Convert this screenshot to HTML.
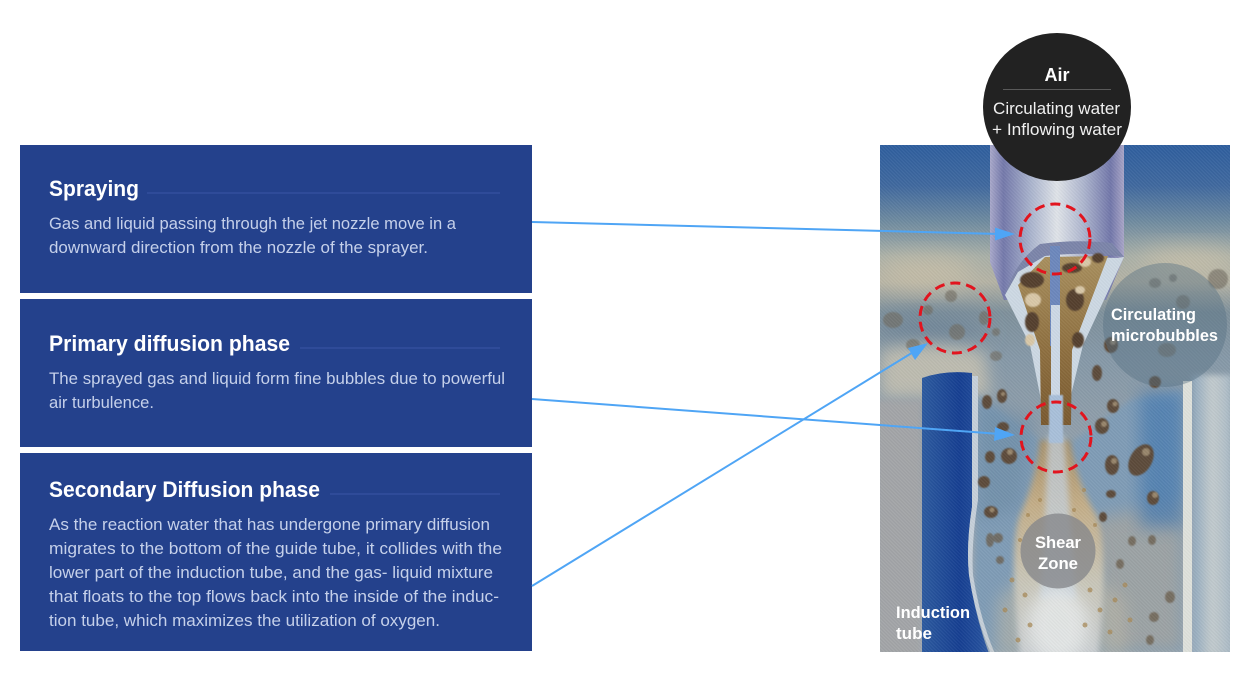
<!DOCTYPE html>
<html lang="en"><head><meta charset="utf-8"><title>Jet nozzle diffusion phases</title>
<style>html,body{margin:0;padding:0;background:#fff;width:1250px;height:700px;overflow:hidden}svg{display:block}text{font-family:"Liberation Sans",sans-serif}</style></head>
<body>
<svg width="1250" height="700" viewBox="0 0 1250 700" xmlns="http://www.w3.org/2000/svg">
<defs>
<clipPath id="ic"><rect x="880" y="145" width="350" height="507"/></clipPath>
<linearGradient id="bg" x1="0" y1="0" x2="0" y2="1">
<stop offset="0" stop-color="#2f5f9f"/><stop offset=".08" stop-color="#40699f"/><stop offset=".15" stop-color="#6f8ba0"/><stop offset=".22" stop-color="#a9b0a8"/><stop offset=".27" stop-color="#b5b3a5"/><stop offset=".33" stop-color="#7f919c"/><stop offset=".42" stop-color="#8699a8"/><stop offset=".7" stop-color="#9aa4ad"/><stop offset="1" stop-color="#a3afba"/></linearGradient>
<linearGradient id="pipe" x1="0" y1="0" x2="1" y2="0">
<stop offset="0" stop-color="#a9a9cb"/><stop offset=".1" stop-color="#7479ab"/><stop offset=".3" stop-color="#a9b3cd"/><stop offset=".5" stop-color="#e0e4e9"/><stop offset=".7" stop-color="#adb5ce"/><stop offset=".9" stop-color="#7277aa"/><stop offset="1" stop-color="#a9a6c8"/></linearGradient>
<linearGradient id="tube" x1="0" y1="0" x2="1" y2="0"><stop offset="0" stop-color="#2d5ba0"/><stop offset=".55" stop-color="#163f92"/><stop offset="1" stop-color="#2a57a3"/></linearGradient>
<linearGradient id="brown" x1="0" y1="0" x2="0" y2="1"><stop offset="0" stop-color="#a9905f"/><stop offset=".55" stop-color="#8f7040"/><stop offset="1" stop-color="#7a5a30"/></linearGradient>
<linearGradient id="jet" x1="0" y1="0" x2="0" y2="1"><stop offset="0" stop-color="#a89068"/><stop offset=".3" stop-color="#c4ae88"/><stop offset=".65" stop-color="#c9c6b8"/><stop offset="1" stop-color="#c9ced2"/></linearGradient>
<linearGradient id="rside" x1="0" y1="0" x2="1" y2="0"><stop offset="0" stop-color="#8fa8be"/><stop offset=".5" stop-color="#c4ccce"/><stop offset="1" stop-color="#a9bac6"/></linearGradient>
<pattern id="hatch" width="2.500" height="2.500" patternUnits="userSpaceOnUse" patternTransform="rotate(45)"><rect width="2.500" height="1" fill="#fff" fill-opacity=".05"/><rect y="1.300" width="2.500" height="1" fill="#000" fill-opacity=".035"/></pattern>
<filter id="b12" x="-40%" y="-60%" width="180%" height="220%"><feGaussianBlur stdDeviation="12"/></filter>
<filter id="b8" x="-30%" y="-30%" width="160%" height="160%"><feGaussianBlur stdDeviation="8"/></filter>
<filter id="b3" x="-30%" y="-30%" width="160%" height="160%"><feGaussianBlur stdDeviation="3"/></filter>
<filter id="b1" x="-30%" y="-30%" width="160%" height="160%"><feGaussianBlur stdDeviation=".9"/></filter>
</defs>
<rect width="1250" height="700" fill="#fff"/>

<rect x="20" y="145" width="512" height="148" fill="#24418c"/>
<rect x="20" y="299" width="512" height="148" fill="#24418c"/>
<rect x="20" y="453" width="512" height="198" fill="#24418c"/>
<g fill="#2f4b99"><rect x="147" y="192" width="353" height="2"/><rect x="300" y="347" width="200" height="2"/><rect x="330" y="493" width="170" height="2"/></g>
<g fill="#fff" font-weight="700" font-size="22">
<text x="49" y="196" textLength="90" lengthAdjust="spacingAndGlyphs">Spraying</text>
<text x="49" y="351" textLength="241" lengthAdjust="spacingAndGlyphs">Primary diffusion phase</text>
<text x="49" y="497" textLength="271" lengthAdjust="spacingAndGlyphs">Secondary Diffusion phase</text>
</g>
<g fill="#c5d0ea" font-size="17">
<text x="49" y="229" textLength="407" lengthAdjust="spacingAndGlyphs">Gas and liquid passing through the jet nozzle move in a</text>
<text x="49" y="253" textLength="379" lengthAdjust="spacingAndGlyphs">downward direction from the nozzle of the sprayer.</text>
<text x="49" y="384" textLength="456" lengthAdjust="spacingAndGlyphs">The sprayed gas and liquid form fine bubbles due to powerful</text>
<text x="49" y="408" textLength="105" lengthAdjust="spacingAndGlyphs">air turbulence.</text>
<text x="49" y="530" textLength="441" lengthAdjust="spacingAndGlyphs">As the reaction water that has undergone primary diffusion</text>
<text x="49" y="554" textLength="453" lengthAdjust="spacingAndGlyphs">migrates to the bottom of the guide tube, it collides with the</text>
<text x="49" y="578" textLength="444" lengthAdjust="spacingAndGlyphs">lower part of the induction tube, and the gas- liquid mixture</text>
<text x="49" y="602" textLength="450" lengthAdjust="spacingAndGlyphs">that floats to the top flows back into the inside of the induc-</text>
<text x="49" y="626" textLength="391" lengthAdjust="spacingAndGlyphs">tion tube, which maximizes the utilization of oxygen.</text>
</g>

<g clip-path="url(#ic)">
<rect x="880" y="145" width="350" height="507" fill="url(#bg)"/>
<ellipse cx="925" cy="272" rx="50" ry="14" fill="#c6bea8" filter="url(#b12)"/>
<ellipse cx="1190" cy="262" rx="50" ry="13" fill="#c6bfaa" filter="url(#b12)"/>
<ellipse cx="930" cy="330" rx="55" ry="14" fill="#6f8598" filter="url(#b12)"/>
<path d="M880 350 Q930 338 985 352 L990 398 L880 398Z" fill="#bdbcb0" filter="url(#b8)"/>
<rect x="876" y="400" width="46" height="256" fill="#a3a5a8" filter="url(#b3)"/>
<path d="M978 395 L1040 440 L1075 440 L1130 400 L1183 390 L1183 652 L990 652 Q972 610 974 570Z" fill="#7f9cb6" filter="url(#b3)"/>
<path d="M978 400 L1035 420 L1020 510 L978 520Z" fill="#6f8ea8" opacity=".7" filter="url(#b8)"/>
<path d="M1090 520 L1183 500 L1183 652 L1110 652Z" fill="#a9a69e" opacity=".7" filter="url(#b8)"/>
<rect x="1140" y="392" width="43" height="135" fill="#4a7bb0" opacity=".75" filter="url(#b8)"/>
<rect x="1192" y="375" width="40" height="280" fill="url(#rside)" filter="url(#b3)"/>
<rect x="1183" y="381" width="9" height="271" fill="#dfe2dc"/>

<path d="M922 378 Q945 370 972 373 L972 507 Q966 545 969 575 Q976 620 990 656 L922 656Z" fill="url(#tube)"/>
<path d="M972 376 L978 376 L978 500 Q971 545 973 575 Q980 620 996 656 L992 656 Q976 620 969 575 Q966 545 972 507 Z" fill="#c6d0da"/>

<path d="M1040 560 L1070 560 L1125 600 L1125 656 L995 656 L998 600Z" fill="#c0b9a6" opacity=".55" filter="url(#b8)"/>
<path d="M1040 440 L1070 440 Q1076 480 1096 515 Q1110 545 1098 656 L1020 656 Q1008 545 1020 515 Q1036 480 1040 440Z" fill="url(#jet)" filter="url(#b3)"/>
<path d="M1048 435 L1064 435 L1072 540 L1076 600 L1040 600 L1044 540Z" fill="#c5d3e2" opacity=".7" filter="url(#b3)"/>
<ellipse cx="1058" cy="625" rx="30" ry="38" fill="#e7eaea" opacity=".85" filter="url(#b8)"/>

<path d="M990 145 L1124 145 L1124 257 L1106 300 L1004 300 L990 262Z" fill="url(#pipe)"/>
<path d="M1005 295 Q1015 262 1040 244 Q1075 239 1112 243 L1124 257 Q1085 251 1045 256 Q1020 270 1005 295Z" fill="#7c85aa"/>
<path d="M1005 295 L1018 272 L1045 256 L1118 258 L1124 257 L1083 345 L1071 395 L1068 425 L1044 425 L1040 395 L1030 345Z" fill="#cdd9e4"/>
<path d="M1018 285 L1045 257 L1108 256 L1072 350 L1071 425 L1041 425 L1040 350Z" fill="url(#brown)"/>
<rect x="1050" y="246" width="10" height="100" fill="#6d88bd"/>
<rect x="1051" y="305" width="9" height="100" fill="#cdd9e6"/>
<rect x="1049" y="395" width="14" height="48" fill="#a9c0da" filter="url(#b1)"/>

<g fill="#54402e" filter="url(#b1)">
<ellipse cx="1032" cy="280" rx="12" ry="8"/><ellipse cx="1075" cy="300" rx="9" ry="11"/><ellipse cx="1072" cy="268" rx="10" ry="5"/><ellipse cx="1032" cy="322" rx="7" ry="10"/><ellipse cx="1078" cy="340" rx="6" ry="8"/><ellipse cx="1098" cy="258" rx="6" ry="5"/>
</g>
<g fill="#d9c8a8" filter="url(#b1)">
<ellipse cx="1033" cy="300" rx="8" ry="7"/><ellipse cx="1080" cy="290" rx="5" ry="4"/><ellipse cx="1085" cy="262" rx="6" ry="5"/><ellipse cx="1030" cy="340" rx="5" ry="6"/>
</g>

<g fill="#5d4b3a" filter="url(#b1)">
<ellipse cx="1002" cy="396" rx="5" ry="7"/><ellipse cx="987" cy="402" rx="5" ry="7"/><ellipse cx="1003" cy="427" rx="6" ry="5"/>
<ellipse cx="990" cy="457" rx="5" ry="6"/><ellipse cx="1009" cy="456" rx="8" ry="8"/><ellipse cx="984" cy="482" rx="6" ry="6"/><ellipse cx="991" cy="512" rx="7" ry="6"/>
<ellipse cx="1102" cy="426" rx="7" ry="8"/><ellipse cx="1113" cy="406" rx="6" ry="7"/><ellipse cx="1112" cy="465" rx="7" ry="10"/><ellipse cx="1141" cy="460" rx="11" ry="17" transform="rotate(30 1141 460)"/>
<ellipse cx="1153" cy="498" rx="6" ry="7"/><ellipse cx="1111" cy="494" rx="5" ry="4"/><ellipse cx="1103" cy="517" rx="4" ry="5"/><ellipse cx="1111" cy="345" rx="7" ry="8"/><ellipse cx="1097" cy="373" rx="5" ry="8"/><ellipse cx="1155" cy="382" rx="6" ry="6"/>
</g>
<g fill="#c9b795" opacity=".55" filter="url(#b1)">
<circle cx="1104" cy="424" r="3"/><circle cx="1115" cy="404" r="2.500"/><circle cx="1114" cy="461" r="3"/><circle cx="1146" cy="452" r="4"/><circle cx="1155" cy="495" r="3"/><circle cx="1010" cy="452" r="3"/><circle cx="992" cy="510" r="2.500"/><circle cx="1003" cy="394" r="2"/><circle cx="1113" cy="342" r="3"/>
</g>
<g fill="#6b5d4c" opacity=".75" filter="url(#b1)">
<ellipse cx="998" cy="538" rx="5" ry="5"/><ellipse cx="990" cy="540" rx="4" ry="7"/><ellipse cx="1000" cy="560" rx="4" ry="4"/><ellipse cx="1132" cy="541" rx="4" ry="5"/><ellipse cx="1152" cy="540" rx="4" ry="5"/><ellipse cx="1120" cy="564" rx="4" ry="5"/><ellipse cx="1170" cy="597" rx="5" ry="6"/><ellipse cx="1154" cy="617" rx="5" ry="5"/><ellipse cx="1150" cy="640" rx="4" ry="5"/>
</g>
<g fill="#6f6a5e" opacity=".6" filter="url(#b1)">
<ellipse cx="893" cy="320" rx="10" ry="8"/><ellipse cx="913" cy="345" rx="7" ry="6"/><ellipse cx="951" cy="296" rx="6" ry="6"/><ellipse cx="957" cy="332" rx="8" ry="8"/><ellipse cx="928" cy="310" rx="5" ry="5"/><ellipse cx="984" cy="318" rx="5" ry="7"/><ellipse cx="996" cy="332" rx="4" ry="4"/><ellipse cx="996" cy="356" rx="6" ry="5"/><ellipse cx="1218" cy="279" rx="10" ry="10"/><ellipse cx="1155" cy="283" rx="6" ry="5"/><ellipse cx="1183" cy="302" rx="7" ry="7"/><ellipse cx="1173" cy="278" rx="4" ry="4"/><ellipse cx="1167" cy="350" rx="9" ry="7"/>
</g>
<g fill="#a88a58" opacity=".75">
<circle cx="1012" cy="580" r="2.500"/><circle cx="1025" cy="595" r="2.500"/><circle cx="1005" cy="610" r="2.500"/><circle cx="1030" cy="625" r="2.500"/><circle cx="1018" cy="640" r="2.500"/><circle cx="1090" cy="590" r="2.500"/><circle cx="1100" cy="610" r="2.500"/><circle cx="1085" cy="625" r="2.500"/><circle cx="1115" cy="600" r="2.500"/><circle cx="1125" cy="585" r="2.500"/><circle cx="1110" cy="632" r="2.500"/><circle cx="1130" cy="620" r="2.500"/><circle cx="1040" cy="500" r="2"/><circle cx="1028" cy="515" r="2"/><circle cx="1084" cy="490" r="2"/><circle cx="1074" cy="510" r="2"/><circle cx="1095" cy="525" r="2"/><circle cx="1020" cy="540" r="2"/>
</g>
<rect x="880" y="145" width="350" height="507" fill="url(#hatch)"/>

<circle cx="1165" cy="325" r="62" fill="#566f84" fill-opacity=".42"/>
<circle cx="1058" cy="551" r="37.500" fill="#85878a" fill-opacity=".78"/>
</g>

<g fill="none" stroke="#e2141e" stroke-width="3" stroke-dasharray="10 6">
<circle cx="1055" cy="239" r="35"/>
<circle cx="955" cy="318" r="35"/>
<circle cx="1056" cy="437" r="35"/>
</g>

<g fill="#fff" font-weight="700" font-size="17">
<text x="1111" y="320" textLength="85" lengthAdjust="spacingAndGlyphs">Circulating</text>
<text x="1111" y="341" textLength="107" lengthAdjust="spacingAndGlyphs">microbubbles</text>
<text x="1035" y="548" textLength="46" lengthAdjust="spacingAndGlyphs">Shear</text>
<text x="1038" y="569" textLength="40" lengthAdjust="spacingAndGlyphs">Zone</text>
<text x="896" y="618" textLength="74" lengthAdjust="spacingAndGlyphs">Induction</text>
<text x="896" y="639" textLength="36" lengthAdjust="spacingAndGlyphs">tube</text>
</g>

<g stroke="#4fa5f5" stroke-width="2" fill="none">
<line x1="532" y1="222" x2="1000" y2="234"/>
<line x1="532" y1="399" x2="1000" y2="434"/>
<line x1="532" y1="586" x2="915" y2="351"/>
</g>
<g fill="#4fa5f5">
<polygon points="1015,234 995,227.500 995,240.500"/>
<polygon points="1015,435 995,427 994,441"/>
<polygon points="928,343 908,348 915,360"/>
</g>

<circle cx="1057" cy="107" r="74" fill="#222"/>
<rect x="1003" y="89" width="108" height="1" fill="#5a5a5a"/>
<text x="1057" y="81" fill="#fff" font-weight="700" font-size="18" text-anchor="middle">Air</text>
<text x="993" y="114" fill="#f0f0f0" font-size="17" textLength="127" lengthAdjust="spacingAndGlyphs">Circulating water</text>
<text x="992" y="135" fill="#f0f0f0" font-size="17" textLength="130" lengthAdjust="spacingAndGlyphs">+ Inflowing water</text>
</svg>
</body></html>
